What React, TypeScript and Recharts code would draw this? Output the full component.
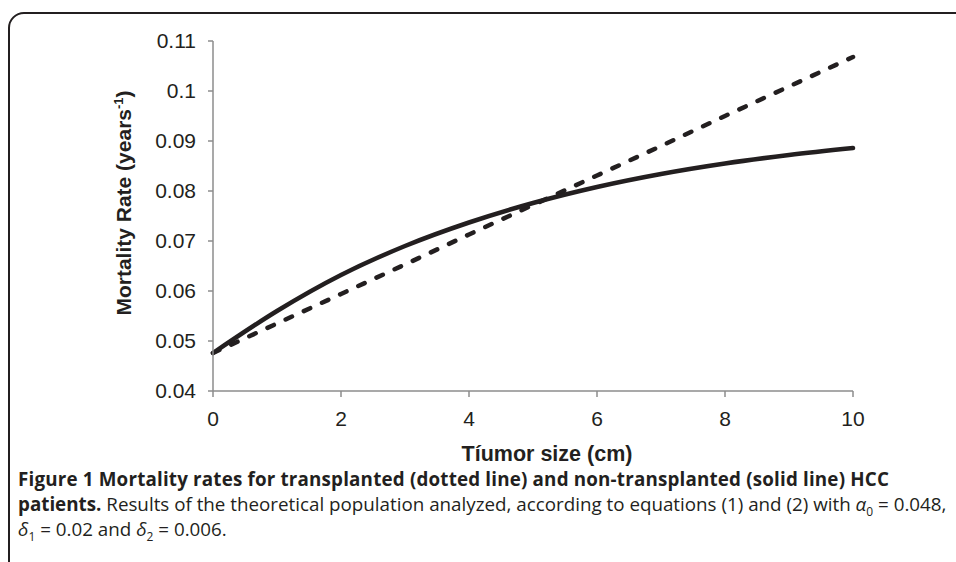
import { LineChart, Line, XAxis, YAxis } from 'recharts'

// tumour size (cm)
const sizes = [0, 1, 2, 3, 4, 5, 6, 7, 8, 9, 10]
// transplanted, dotted line
const transplanted = [0.0476, 0.0535, 0.0594, 0.0653, 0.0713, 0.0772, 0.0831, 0.089, 0.095, 0.1009, 0.1068]
// non-transplanted, solid line
const nonTransplanted = [0.0476, 0.056, 0.0632, 0.069, 0.0737, 0.0776, 0.0808, 0.0834, 0.0855, 0.0872, 0.0886]

const xTicks = [0, 2, 4, 6, 8, 10]
const yTicks = [0.04, 0.05, 0.06, 0.07, 0.08, 0.09, 0.1, 0.11]

const data = sizes.map((s, i) => ({
  size: s,
  transplanted: transplanted[i],
  nonTransplanted: nonTransplanted[i],
}))

const ink = '#231f20'
const axisGrey = '#8c8c8c'
const tickStyle = { fontSize: 21, fill: ink, fontFamily: 'Liberation Sans, Arial, sans-serif' }

export default function App() {
  return (
    <div style={{ position: 'absolute', left: 0, top: 0, width: 956, height: 562, overflow: 'hidden', background: '#fff' }}>
      <div
        style={{
          position: 'absolute', left: 8, top: 12, width: 980, height: 600,
          border: `2px solid ${ink}`, borderTopLeftRadius: 16, boxSizing: 'border-box',
        }}
      />
      <div style={{ position: 'absolute', left: 0, top: 0 }}>
        <LineChart width={956} height={562} data={data} margin={{ top: 41, right: 103, bottom: 131, left: 0 }}>
          <XAxis
            dataKey="size"
            type="number"
            domain={[0, 10]}
            ticks={xTicks}
            height={40}
            tick={tickStyle}
            tickSize={6}
            tickMargin={14}
            stroke={axisGrey}
            strokeWidth={1.5}
          />
          <YAxis
            type="number"
            domain={[0.04, 0.11]}
            ticks={yTicks}
            width={213}
            tick={tickStyle}
            tickSize={5}
            tickMargin={12}
            stroke={axisGrey}
            strokeWidth={1.5}
            tickFormatter={(v: number) => String(Number(v.toFixed(2)))}
          />
          <Line
            type="linear"
            dataKey="transplanted"
            stroke={ink}
            strokeWidth={4.5}
            strokeDasharray="7 13"
            strokeLinecap="round"
            dot={false}
            isAnimationActive={false}
          />
          <Line
            type="monotone"
            dataKey="nonTransplanted"
            stroke={ink}
            strokeWidth={4.5}
            strokeLinecap="round"
            dot={false}
            isAnimationActive={false}
          />
        </LineChart>
      </div>
      <div
        style={{
          position: 'absolute', left: 123, top: 203, transform: 'translate(-50%, -50%) rotate(-90deg)',
          whiteSpace: 'nowrap', fontFamily: 'Liberation Sans, Arial, sans-serif', fontWeight: 'bold',
          fontSize: 21, color: ink,
        }}
      >
        Mortality Rate (years<sup style={{ fontSize: 13 }}>-1</sup>)
      </div>
      <div
        style={{
          position: 'absolute', left: 547, top: 454, transform: 'translate(-50%, -50%)',
          whiteSpace: 'nowrap', fontFamily: 'Liberation Sans, Arial, sans-serif', fontWeight: 'bold',
          fontSize: 21.5, color: ink,
        }}
      >
        Tíumor size (cm)
      </div>
      <div
        style={{
          position: 'absolute', left: 18, top: 467, fontFamily: 'Open Sans, sans-serif', fontSize: 18.8,
          lineHeight: '25px', color: ink, whiteSpace: 'nowrap',
        }}
      >
        <div style={{ fontWeight: 'bold', letterSpacing: 0.18 }}>
          Figure 1 Mortality rates for transplanted (dotted line) and non-transplanted (solid line) HCC
        </div>
        <div>
          <b>patients.</b> Results of the theoretical population analyzed, according to equations (1) and (2) with{' '}
          <i>α</i><sub style={{ fontSize: 12, lineHeight: 0 }}>0</sub> = 0.048,
        </div>
        <div>
          <i>δ</i><sub style={{ fontSize: 12, lineHeight: 0 }}>1</sub> = 0.02 and <i>δ</i><sub style={{ fontSize: 12, lineHeight: 0 }}>2</sub> = 0.006.
        </div>
      </div>
    </div>
  )
}
